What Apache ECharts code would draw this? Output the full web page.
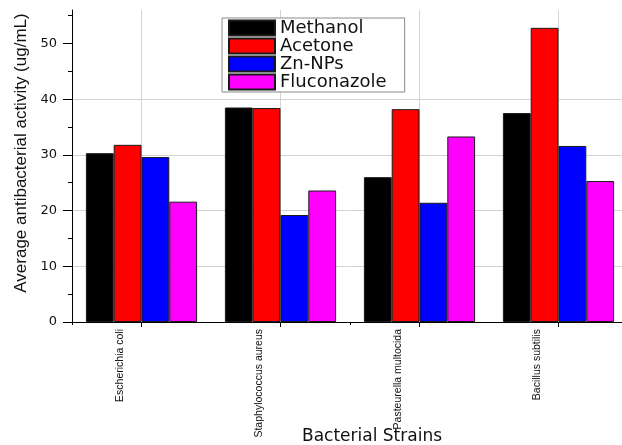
<!DOCTYPE html>
<html>
<head>
<meta charset="utf-8">
<script src="https://cdn.jsdelivr.net/npm/echarts@6/dist/echarts.min.js"></script>
<style>
  html, body { margin: 0; padding: 0; background: #fff; }
  #chart { width: 622px; height: 445px; }
</style>
</head>
<body>
<div id="chart"></div>
<script>
// Bacterial strains tested
const categories = ['Escherichia coli', 'Staphylococcus aureus', 'Pasteurella multocida', 'Bacillus subtilis'];

// Average antibacterial activity (ug/mL) per extract / treatment
const methanol    = [30.3, 38.5, 26.0, 37.5];
const acetone     = [31.8, 38.4, 38.2, 52.8];
const znNps       = [29.6, 19.2, 21.4, 31.6];
const fluconazole = [21.6, 23.6, 33.3, 25.3];

const seriesNames = ['Methanol', 'Acetone', 'Zn-NPs', 'Fluconazole'];
const seriesColors = ['#000000', '#ff0000', '#0000ff', '#ff00ff'];
const seriesData = [methanol, acetone, znNps, fluconazole];

// Value axis ticks
const yMajorTicks = [0, 10, 20, 30, 40, 50];
const yMinorTicks = [5, 15, 25, 35, 45, 55];

const chart = echarts.init(document.getElementById('chart'), null, { renderer: 'canvas' });

const gridColor = '#d2d2d2';

const option = {
  animation: false,
  backgroundColor: '#ffffff',
  grid: { left: 72, top: 10, width: 556, height: 312, containLabel: false, outerBoundsMode: 'none' },
  legend: {
    orient: 'vertical',
    left: 222,
    top: 18,
    icon: 'rect',
    itemWidth: 46,
    itemHeight: 15,
    itemGap: 0,
    padding: [1, 18, 1, 6],
    backgroundColor: '#ffffff',
    borderColor: '#8a8a8a',
    borderWidth: 1,
    data: seriesNames,
    textStyle: { fontFamily: 'DejaVu Sans', fontSize: 18, lineHeight: 18, color: '#111' }
  },
  xAxis: [
    {
      type: 'category',
      data: categories,
      name: 'Bacterial Strains',
      nameLocation: 'middle',
      nameGap: 106,
      nameMoveOverlap: false,
      nameTextStyle: { fontFamily: 'DejaVu Sans', fontSize: 17, color: '#111', padding: [0, 0, 0, 44] },
      axisLine: { show: true, lineStyle: { color: '#000', width: 1 } },
      axisTick: { show: true, alignWithLabel: true, length: 5, lineStyle: { color: '#000' } },
      axisLabel: {
        rotate: 90,
        margin: 7,
        fontFamily: 'Liberation Sans',
        fontSize: 10.5,
        lineHeight: 14,
        color: '#111',
        // trailing blank lines set the strain name off to the left of its tick
        formatter: (v) => v + '\n\n\n '
      },
      splitLine: { show: true, alignWithLabel: true, lineStyle: { color: gridColor, width: 1 } }
    },
    {
      type: 'category',
      data: categories,
      position: 'bottom',
      axisLine: { show: false },
      axisTick: { show: true, length: 3, lineStyle: { color: '#000' } },
      axisLabel: { show: false },
      splitLine: { show: false }
    }
  ],
  yAxis: [
    {
      type: 'value',
      min: 0,
      max: 56,
      interval: 10,
      name: 'Average antibacterial activity (ug/mL)',
      nameLocation: 'middle',
      nameGap: 42,
      nameMoveOverlap: false,
      nameTextStyle: { fontFamily: 'Liberation Sans', fontSize: 17, color: '#111', padding: [0, 0, 0, 26] },
      axisLine: { show: true, lineStyle: { color: '#000', width: 1 } },
      axisTick: { show: true, length: 9, customValues: yMajorTicks, lineStyle: { color: '#000' } },
      axisLabel: {
        margin: 15,
        customValues: yMajorTicks,
        fontFamily: 'DejaVu Sans',
        fontSize: 13,
        color: '#111'
      },
      splitLine: { show: true, showMaxLine: false, showMinLine: false, lineStyle: { color: gridColor, width: 1 } }
    },
    {
      type: 'value',
      min: 0,
      max: 56,
      position: 'left',
      axisLine: { show: false },
      axisTick: { show: true, length: 4, customValues: yMinorTicks, lineStyle: { color: '#000' } },
      axisLabel: { show: false },
      splitLine: { show: false }
    }
  ],
  series: seriesNames.map((name, i) => ({
    name: name,
    type: 'bar',
    xAxisIndex: 0,
    yAxisIndex: 0,
    data: seriesData[i],
    barGap: '0%',
    barCategoryGap: '20%',
    itemStyle: { color: seriesColors[i], borderColor: '#1a1a1a', borderWidth: 1 }
  }))
};

chart.setOption(option);
</script>
</body>
</html>
